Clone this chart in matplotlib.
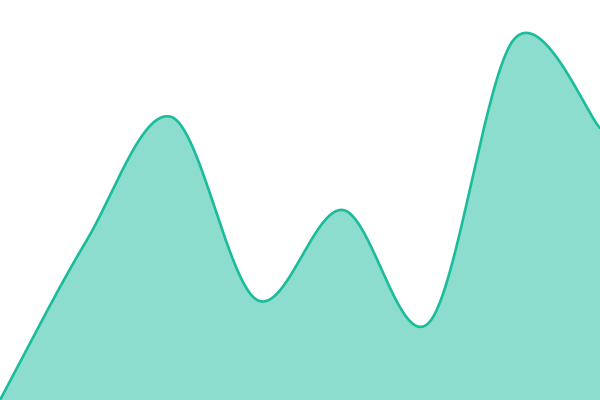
import numpy as np
import matplotlib
matplotlib.use("Agg")
import matplotlib.pyplot as plt

x_index = [0, 1, 2, 3, 4, 5, 6, 7]
values = [0, 158, 283, 100, 190, 77, 361, 272]

def catmull_rom(xs, ys, n=60):
    xs = np.asarray(xs, float); ys = np.asarray(ys, float)
    px = np.concatenate([[xs[0]], xs, [xs[-1]]])
    py = np.concatenate([[ys[0]], ys, [ys[-1]]])
    outx, outy = [], []
    for i in range(1, len(px) - 2):
        p0x, p1x, p2x, p3x = px[i-1], px[i], px[i+1], px[i+2]
        p0y, p1y, p2y, p3y = py[i-1], py[i], py[i+1], py[i+2]
        c1x = p1x + (p2x - p0x) / 6; c1y = p1y + (p2y - p0y) / 6
        c2x = p2x - (p3x - p1x) / 6; c2y = p2y - (p3y - p1y) / 6
        t = np.linspace(0, 1, n)
        bx = (1-t)**3*p1x + 3*(1-t)**2*t*c1x + 3*(1-t)*t**2*c2x + t**3*p2x
        by = (1-t)**3*p1y + 3*(1-t)**2*t*c1y + 3*(1-t)*t**2*c2y + t**3*p2y
        outx.append(bx); outy.append(by)
    return np.concatenate(outx), np.concatenate(outy)

sx, sy = catmull_rom(x_index, values)

fig = plt.figure(figsize=(6, 4), dpi=100)
ax = fig.add_axes([0, 0, 1, 1])
ax.fill_between(sx, sy, 0, color="#1abc9c", alpha=0.5, linewidth=0)
ax.plot(sx, sy, color="#1abc9c", linewidth=1.9, solid_capstyle="round")
ax.set_xlim(0, 7)
ax.set_ylim(0, 400)
ax.axis("off")
fig.savefig("out.png", dpi=100)
